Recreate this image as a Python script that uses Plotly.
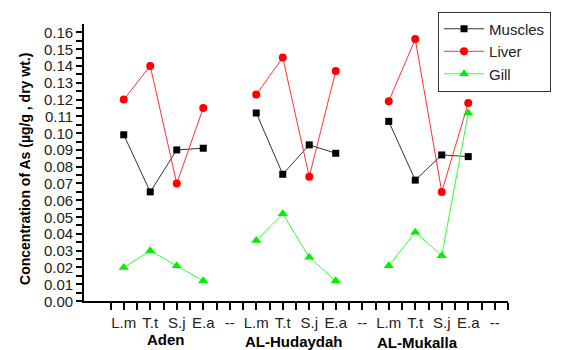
import plotly.graph_objects as go

# Fish species per site, with a "--" spacer slot after each site
species = ["L.m", "T.t", "S.j", "E.a"]
sites = ["Aden", "AL-Hudaydah", "AL-Mukalla"]
tick_labels = ["L.m", "T.t", "S.j", "E.a", "--"] * 3

# Y axis: labelled ticks every 0.01, plain halfway ticks in between
y_label_values = [0.00, 0.01, 0.02, 0.03, 0.04, 0.05, 0.06, 0.07, 0.08,
                  0.09, 0.10, 0.11, 0.12, 0.13, 0.14, 0.15, 0.16]
y_label_texts = ["0.00", "0.01", "0.02", "0.03", "0.04", "0.05", "0.06",
                 "0.07", "0.08", "0.09", "0.10", "0.11", "0.12", "0.13",
                 "0.14", "0.15", "0.16"]
y_tick_values = [0.00, 0.005, 0.01, 0.015, 0.02, 0.025, 0.03, 0.035, 0.04,
                 0.045, 0.05, 0.055, 0.06, 0.065, 0.07, 0.075, 0.08, 0.085,
                 0.09, 0.095, 0.10, 0.105, 0.11, 0.115, 0.12, 0.125, 0.13,
                 0.135, 0.14, 0.145, 0.15, 0.155, 0.16]

# Arsenic concentration (µg/g, dry wt.) per tissue, ordered site by site
muscles = [0.099, 0.065, 0.090, 0.091,
           0.112, 0.0755, 0.093, 0.088,
           0.107, 0.072, 0.087, 0.086]
liver = [0.120, 0.140, 0.070, 0.115,
         0.123, 0.145, 0.074, 0.137,
         0.119, 0.156, 0.065, 0.118]
gill = [0.020, 0.030, 0.021, 0.012,
        0.036, 0.052, 0.026, 0.012,
        0.021, 0.041, 0.027, 0.112]

# Site label positions on the x axis (category units)
site_label_x = [1.58, 6.43, 11.1]
site_label_y = [-0.140, -0.145, -0.150]


def with_gaps(values):
    """Spread values over the 5-slot groups, leaving the spacer slot empty."""
    xs, ys = [], []
    n = len(species)
    for g in range(len(sites)):
        for i in range(n):
            xs.append(g * (n + 1) + i)
            ys.append(values[g * n + i])
        xs.append(None)
        ys.append(None)
    return xs, ys


font_family = "Arial"
fig = go.Figure()

series = [
    ("Muscles", muscles, "#000000", "#333333", "square", 7),
    ("Liver", liver, "#ff0000", "#ff3030", "circle", 8),
    ("Gill", gill, "#00f000", "#33ff33", "triangle-up", 9),
]
for name, vals, mcol, lcol, sym, size in series:
    xs, ys = with_gaps(vals)
    fig.add_trace(go.Scatter(
        x=xs, y=ys, name=name, mode="lines+markers",
        connectgaps=False,
        line=dict(color=lcol, width=1),
        marker=dict(color=mcol, symbol=sym, size=size,
                    line=dict(width=0)),
    ))

# Group names under the category labels
for label, lx, ly in zip(sites, site_label_x, site_label_y):
    fig.add_annotation(
        x=lx, y=ly, xref="x", yref="paper", text="<b>%s</b>" % label,
        showarrow=False, xanchor="center", yanchor="middle",
        font=dict(family=font_family, size=15, color="#000000"),
    )

# Y tick labels, placed on the y scale just left of the tick marks
for v, t in zip(y_label_values, y_label_texts):
    fig.add_annotation(
        x=0, y=v, xref="paper", yref="y", text=t, showarrow=False,
        xanchor="right", yanchor="middle", xshift=-9,
        font=dict(family=font_family, size=15, color="#222222"),
    )

# Y axis title
fig.add_annotation(
    x=-0.139, y=0.477, xref="paper", yref="paper",
    text="<b>Concentration of As (µg/g , dry wt.)</b>",
    textangle=-90, showarrow=False, xanchor="center", yanchor="middle",
    font=dict(family=font_family, size=14, color="#000000"),
)

fig.update_layout(
    width=575, height=350,
    margin=dict(l=84, r=67, t=20, b=49),
    paper_bgcolor="white", plot_bgcolor="white",
    font=dict(family=font_family, color="#222222"),
    showlegend=True,
    legend=dict(
        x=0.835, y=1.045, xanchor="left", yanchor="top",
        bordercolor="#333333", borderwidth=1, bgcolor="white",
        font=dict(family=font_family, size=15, color="#222222"),
        tracegroupgap=0, itemwidth=40,
    ),
    xaxis=dict(
        range=[-1.5, 14.5],
        tickmode="array",
        tickvals=list(range(len(tick_labels))),
        ticktext=tick_labels,
        ticks="outside", ticklen=7, tickwidth=2, tickcolor="#000000",
        minor=dict(ticks="outside", ticklen=7, tickwidth=2,
                   tickcolor="#000000", tickmode="array",
                   tickvals=[i - 0.5 for i in range(len(tick_labels) + 1)]),
        showline=True, linecolor="#000000", linewidth=2,
        showgrid=False, zeroline=False,
        tickfont=dict(family=font_family, size=15, color="#222222"),
    ),
    yaxis=dict(
        range=[0, 0.165],
        tickmode="array", tickvals=y_tick_values,
        showticklabels=False,
        ticks="outside", ticklen=6, tickwidth=2, tickcolor="#000000",
        showline=True, linecolor="#000000", linewidth=2,
        showgrid=False, zeroline=False,
    ),
)

fig.write_html("out.html")
